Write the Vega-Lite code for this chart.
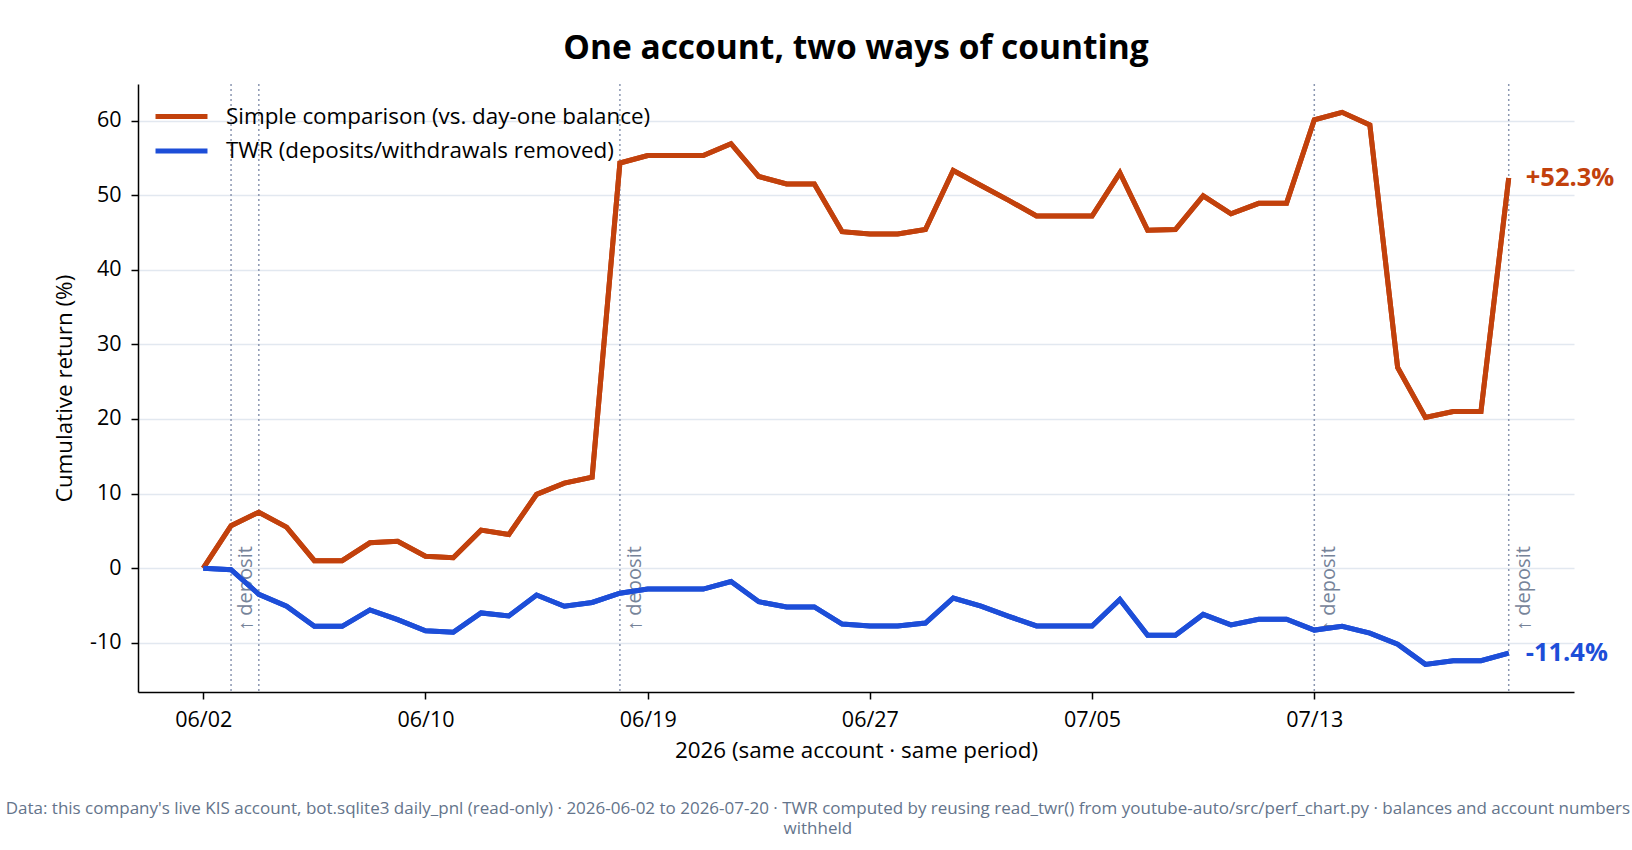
{
  "$schema": "https://vega.github.io/schema/vega-lite/v6.json",
  "background": "white",
  "padding": {"left": 5, "top": 31, "right": 4, "bottom": 6},
  "config": {
    "font": "Open Sans",
    "view": {"stroke": null},
    "axis": {
      "domainColor": "#000000",
      "domainWidth": 1.5,
      "tickColor": "#000000",
      "tickWidth": 1.5,
      "tickSize": 7,
      "labelFont": "Open Sans",
      "labelFontSize": 21.5,
      "labelColor": "#000000",
      "labelPadding": 10,
      "titleFont": "Open Sans",
      "titleFontSize": 22.4,
      "titleFontWeight": "normal",
      "titleColor": "#000000"
    }
  },
  "title": {
    "text": [
      "Data: this company's live KIS account, bot.sqlite3 daily_pnl (read-only) · 2026-06-02 to 2026-07-20 · TWR computed by reusing read_twr() from youtube-auto/src/perf_chart.py · balances and account numbers",
      "withheld"
    ],
    "orient": "bottom",
    "anchor": "middle",
    "font": "Open Sans",
    "fontSize": 17,
    "fontWeight": "normal",
    "color": "#64748b",
    "lineHeight": 20,
    "offset": 39,
    "dx": -16
  },
  "datasets": {
    "returns": [
      {"day": 0, "date": "06/02", "series": "Simple comparison (vs. day-one balance)", "value": 0.0},
      {"day": 1, "date": "06/03", "series": "Simple comparison (vs. day-one balance)", "value": 5.7},
      {"day": 2, "date": "06/04", "series": "Simple comparison (vs. day-one balance)", "value": 7.5},
      {"day": 3, "date": "06/05", "series": "Simple comparison (vs. day-one balance)", "value": 5.5},
      {"day": 4, "date": "06/06", "series": "Simple comparison (vs. day-one balance)", "value": 1.0},
      {"day": 5, "date": "06/07", "series": "Simple comparison (vs. day-one balance)", "value": 1.0},
      {"day": 6, "date": "06/08", "series": "Simple comparison (vs. day-one balance)", "value": 3.4},
      {"day": 7, "date": "06/09", "series": "Simple comparison (vs. day-one balance)", "value": 3.6},
      {"day": 8, "date": "06/10", "series": "Simple comparison (vs. day-one balance)", "value": 1.6},
      {"day": 9, "date": "06/11", "series": "Simple comparison (vs. day-one balance)", "value": 1.4},
      {"day": 10, "date": "06/12", "series": "Simple comparison (vs. day-one balance)", "value": 5.1},
      {"day": 11, "date": "06/13", "series": "Simple comparison (vs. day-one balance)", "value": 4.5},
      {"day": 12, "date": "06/15", "series": "Simple comparison (vs. day-one balance)", "value": 9.9},
      {"day": 13, "date": "06/16", "series": "Simple comparison (vs. day-one balance)", "value": 11.4},
      {"day": 14, "date": "06/17", "series": "Simple comparison (vs. day-one balance)", "value": 12.2},
      {"day": 15, "date": "06/18", "series": "Simple comparison (vs. day-one balance)", "value": 54.3},
      {"day": 16, "date": "06/19", "series": "Simple comparison (vs. day-one balance)", "value": 55.3},
      {"day": 17, "date": "06/20", "series": "Simple comparison (vs. day-one balance)", "value": 55.3},
      {"day": 18, "date": "06/21", "series": "Simple comparison (vs. day-one balance)", "value": 55.3},
      {"day": 19, "date": "06/22", "series": "Simple comparison (vs. day-one balance)", "value": 56.9},
      {"day": 20, "date": "06/23", "series": "Simple comparison (vs. day-one balance)", "value": 52.5},
      {"day": 21, "date": "06/24", "series": "Simple comparison (vs. day-one balance)", "value": 51.5},
      {"day": 22, "date": "06/25", "series": "Simple comparison (vs. day-one balance)", "value": 51.5},
      {"day": 23, "date": "06/26", "series": "Simple comparison (vs. day-one balance)", "value": 45.1},
      {"day": 24, "date": "06/27", "series": "Simple comparison (vs. day-one balance)", "value": 44.8},
      {"day": 25, "date": "06/28", "series": "Simple comparison (vs. day-one balance)", "value": 44.8},
      {"day": 26, "date": "06/29", "series": "Simple comparison (vs. day-one balance)", "value": 45.4},
      {"day": 27, "date": "06/30", "series": "Simple comparison (vs. day-one balance)", "value": 53.3},
      {"day": 28, "date": "07/01", "series": "Simple comparison (vs. day-one balance)", "value": 51.3},
      {"day": 29, "date": "07/02", "series": "Simple comparison (vs. day-one balance)", "value": 49.3},
      {"day": 30, "date": "07/03", "series": "Simple comparison (vs. day-one balance)", "value": 47.2},
      {"day": 31, "date": "07/04", "series": "Simple comparison (vs. day-one balance)", "value": 47.2},
      {"day": 32, "date": "07/05", "series": "Simple comparison (vs. day-one balance)", "value": 47.2},
      {"day": 33, "date": "07/06", "series": "Simple comparison (vs. day-one balance)", "value": 53.0},
      {"day": 34, "date": "07/07", "series": "Simple comparison (vs. day-one balance)", "value": 45.3},
      {"day": 35, "date": "07/08", "series": "Simple comparison (vs. day-one balance)", "value": 45.4},
      {"day": 36, "date": "07/09", "series": "Simple comparison (vs. day-one balance)", "value": 49.9},
      {"day": 37, "date": "07/10", "series": "Simple comparison (vs. day-one balance)", "value": 47.5},
      {"day": 38, "date": "07/11", "series": "Simple comparison (vs. day-one balance)", "value": 48.9},
      {"day": 39, "date": "07/12", "series": "Simple comparison (vs. day-one balance)", "value": 48.9},
      {"day": 40, "date": "07/13", "series": "Simple comparison (vs. day-one balance)", "value": 60.1},
      {"day": 41, "date": "07/14", "series": "Simple comparison (vs. day-one balance)", "value": 61.1},
      {"day": 42, "date": "07/15", "series": "Simple comparison (vs. day-one balance)", "value": 59.4},
      {"day": 43, "date": "07/16", "series": "Simple comparison (vs. day-one balance)", "value": 26.9},
      {"day": 44, "date": "07/17", "series": "Simple comparison (vs. day-one balance)", "value": 20.2},
      {"day": 45, "date": "07/18", "series": "Simple comparison (vs. day-one balance)", "value": 21.0},
      {"day": 46, "date": "07/19", "series": "Simple comparison (vs. day-one balance)", "value": 21.0},
      {"day": 47, "date": "07/20", "series": "Simple comparison (vs. day-one balance)", "value": 52.3},
      {"day": 0, "date": "06/02", "series": "TWR (deposits/withdrawals removed)", "value": 0.0},
      {"day": 1, "date": "06/03", "series": "TWR (deposits/withdrawals removed)", "value": -0.2},
      {"day": 2, "date": "06/04", "series": "TWR (deposits/withdrawals removed)", "value": -3.5},
      {"day": 3, "date": "06/05", "series": "TWR (deposits/withdrawals removed)", "value": -5.1},
      {"day": 4, "date": "06/06", "series": "TWR (deposits/withdrawals removed)", "value": -7.8},
      {"day": 5, "date": "06/07", "series": "TWR (deposits/withdrawals removed)", "value": -7.8},
      {"day": 6, "date": "06/08", "series": "TWR (deposits/withdrawals removed)", "value": -5.6},
      {"day": 7, "date": "06/09", "series": "TWR (deposits/withdrawals removed)", "value": -6.9},
      {"day": 8, "date": "06/10", "series": "TWR (deposits/withdrawals removed)", "value": -8.4},
      {"day": 9, "date": "06/11", "series": "TWR (deposits/withdrawals removed)", "value": -8.6},
      {"day": 10, "date": "06/12", "series": "TWR (deposits/withdrawals removed)", "value": -6.0},
      {"day": 11, "date": "06/13", "series": "TWR (deposits/withdrawals removed)", "value": -6.4},
      {"day": 12, "date": "06/15", "series": "TWR (deposits/withdrawals removed)", "value": -3.6},
      {"day": 13, "date": "06/16", "series": "TWR (deposits/withdrawals removed)", "value": -5.1},
      {"day": 14, "date": "06/17", "series": "TWR (deposits/withdrawals removed)", "value": -4.6},
      {"day": 15, "date": "06/18", "series": "TWR (deposits/withdrawals removed)", "value": -3.35},
      {"day": 16, "date": "06/19", "series": "TWR (deposits/withdrawals removed)", "value": -2.8},
      {"day": 17, "date": "06/20", "series": "TWR (deposits/withdrawals removed)", "value": -2.8},
      {"day": 18, "date": "06/21", "series": "TWR (deposits/withdrawals removed)", "value": -2.8},
      {"day": 19, "date": "06/22", "series": "TWR (deposits/withdrawals removed)", "value": -1.8},
      {"day": 20, "date": "06/23", "series": "TWR (deposits/withdrawals removed)", "value": -4.5},
      {"day": 21, "date": "06/24", "series": "TWR (deposits/withdrawals removed)", "value": -5.2},
      {"day": 22, "date": "06/25", "series": "TWR (deposits/withdrawals removed)", "value": -5.2},
      {"day": 23, "date": "06/26", "series": "TWR (deposits/withdrawals removed)", "value": -7.5},
      {"day": 24, "date": "06/27", "series": "TWR (deposits/withdrawals removed)", "value": -7.75},
      {"day": 25, "date": "06/28", "series": "TWR (deposits/withdrawals removed)", "value": -7.75},
      {"day": 26, "date": "06/29", "series": "TWR (deposits/withdrawals removed)", "value": -7.35},
      {"day": 27, "date": "06/30", "series": "TWR (deposits/withdrawals removed)", "value": -4.0},
      {"day": 28, "date": "07/01", "series": "TWR (deposits/withdrawals removed)", "value": -5.1},
      {"day": 29, "date": "07/02", "series": "TWR (deposits/withdrawals removed)", "value": -6.45},
      {"day": 30, "date": "07/03", "series": "TWR (deposits/withdrawals removed)", "value": -7.75},
      {"day": 31, "date": "07/04", "series": "TWR (deposits/withdrawals removed)", "value": -7.75},
      {"day": 32, "date": "07/05", "series": "TWR (deposits/withdrawals removed)", "value": -7.75},
      {"day": 33, "date": "07/06", "series": "TWR (deposits/withdrawals removed)", "value": -4.2},
      {"day": 34, "date": "07/07", "series": "TWR (deposits/withdrawals removed)", "value": -9.0},
      {"day": 35, "date": "07/08", "series": "TWR (deposits/withdrawals removed)", "value": -9.0},
      {"day": 36, "date": "07/09", "series": "TWR (deposits/withdrawals removed)", "value": -6.2},
      {"day": 37, "date": "07/10", "series": "TWR (deposits/withdrawals removed)", "value": -7.6},
      {"day": 38, "date": "07/11", "series": "TWR (deposits/withdrawals removed)", "value": -6.85},
      {"day": 39, "date": "07/12", "series": "TWR (deposits/withdrawals removed)", "value": -6.85},
      {"day": 40, "date": "07/13", "series": "TWR (deposits/withdrawals removed)", "value": -8.3},
      {"day": 41, "date": "07/14", "series": "TWR (deposits/withdrawals removed)", "value": -7.8},
      {"day": 42, "date": "07/15", "series": "TWR (deposits/withdrawals removed)", "value": -8.7},
      {"day": 43, "date": "07/16", "series": "TWR (deposits/withdrawals removed)", "value": -10.2},
      {"day": 44, "date": "07/17", "series": "TWR (deposits/withdrawals removed)", "value": -12.9},
      {"day": 45, "date": "07/18", "series": "TWR (deposits/withdrawals removed)", "value": -12.4},
      {"day": 46, "date": "07/19", "series": "TWR (deposits/withdrawals removed)", "value": -12.4},
      {"day": 47, "date": "07/20", "series": "TWR (deposits/withdrawals removed)", "value": -11.4}
    ],
    "deposits": [
      {"day": 1, "date": "06/03", "note": "↑ deposit"},
      {"day": 2, "date": "06/04", "note": ""},
      {"day": 15, "date": "06/18", "note": "↑ deposit"},
      {"day": 40, "date": "07/13", "note": "↑ deposit"},
      {"day": 47, "date": "07/20", "note": "↑ deposit"}
    ],
    "finals": [
      {"day": 47, "date": "07/20", "series": "Simple comparison (vs. day-one balance)", "value": 52.3, "label": "+52.3%"},
      {"day": 47, "date": "07/20", "series": "TWR (deposits/withdrawals removed)", "value": -11.4, "label": "-11.4%"}
    ]
  },
  "vconcat": [
    {
      "width": 1436,
      "height": 608,
      "title": {
        "text": "One account, two ways of counting",
        "anchor": "middle",
        "frame": "group",
        "font": "Open Sans",
        "fontSize": 33.5,
        "fontWeight": "bold",
        "color": "#000000",
        "offset": 17
      },
      "layer": [
        {
          "data": {"name": "returns"},
          "mark": {"type": "line", "strokeWidth": 5, "strokeJoin": "miter", "strokeCap": "butt"},
          "encoding": {
            "x": {
              "field": "day",
              "type": "quantitative",
              "scale": {"domain": [-2.35, 49.35], "nice": false, "zero": false},
              "axis": {
                "title": "2026 (same account · same period)",
                "values": [0, 8, 16, 24, 32, 40],
                "labelExpr": "['06/02', '06/10', '06/19', '06/27', '07/05', '07/13'][datum.value / 8]",
                "labelAngle": 0,
                "grid": false,
                "titlePadding": 9
              }
            },
            "y": {
              "field": "value",
              "type": "quantitative",
              "scale": {"domain": [-16.6, 64.9], "nice": false, "zero": false},
              "axis": {
                "title": "Cumulative return (%)",
                "values": [-10, 0, 10, 20, 30, 40, 50, 60],
                "labelExpr": "'' + datum.value",
                "labelPadding": 10,
                "grid": true,
                "gridColor": "#e2e8f0",
                "gridWidth": 1.5,
                "titlePadding": 13
              }
            },
            "color": {
              "field": "series",
              "type": "nominal",
              "scale": {
                "domain": ["Simple comparison (vs. day-one balance)", "TWR (deposits/withdrawals removed)"],
                "range": ["#c2410c", "#1d4ed8"]
              },
              "legend": {
                "title": null,
                "orient": "none",
                "legendX": 32,
                "legendY": 21,
                "symbolType": "M-3,0H3",
                "symbolSize": 300,
                "symbolStrokeWidth": 5,
                "symbolFillColor": "transparent",
                "labelFont": "Open Sans",
                "labelFontSize": 22.4,
                "labelColor": "#000000",
                "labelOffset": 33,
                "labelLimit": 800,
                "rowPadding": 11.5
              }
            }
          }
        },
        {
          "mark": {"type": "rule", "color": "#e2e8f0", "strokeWidth": 2.5, "strokeDash": [9, 4]},
          "encoding": {"y": {"datum": 0}}
        },
        {
          "data": {"name": "deposits"},
          "mark": {"type": "rule", "color": "#8b97b1", "strokeWidth": 1.5, "strokeDash": [2, 3]},
          "encoding": {"x": {"field": "day", "type": "quantitative"}}
        },
        {
          "data": {"name": "deposits"},
          "mark": {
            "type": "text",
            "angle": 270,
            "align": "left",
            "baseline": "top",
            "dy": 5,
            "fontSize": 20,
            "color": "#768399"
          },
          "encoding": {
            "x": {"field": "day", "type": "quantitative"},
            "y": {"datum": -8.4},
            "text": {"field": "note"}
          }
        },
        {
          "data": {"name": "returns"},
          "mark": {"type": "line", "strokeWidth": 5, "strokeJoin": "miter", "strokeCap": "butt"},
          "encoding": {
            "x": {"field": "day", "type": "quantitative"},
            "y": {"field": "value", "type": "quantitative"},
            "color": {"field": "series", "type": "nominal"}
          }
        },
        {
          "data": {"name": "finals"},
          "transform": [{"filter": "datum.value > 0"}],
          "mark": {"type": "text", "align": "left", "baseline": "middle", "dx": 17, "fontSize": 25.5, "fontWeight": "bold", "color": "#c2410c"},
          "encoding": {
            "x": {"field": "day", "type": "quantitative"},
            "y": {"field": "value", "type": "quantitative"},
            "text": {"field": "label"}
          }
        },
        {
          "data": {"name": "finals"},
          "transform": [{"filter": "datum.value < 0"}],
          "mark": {"type": "text", "align": "left", "baseline": "middle", "dx": 17, "fontSize": 25.5, "fontWeight": "bold", "color": "#1d4ed8"},
          "encoding": {
            "x": {"field": "day", "type": "quantitative"},
            "y": {"field": "value", "type": "quantitative"},
            "text": {"field": "label"}
          }
        }
      ]
    }
  ]
}
